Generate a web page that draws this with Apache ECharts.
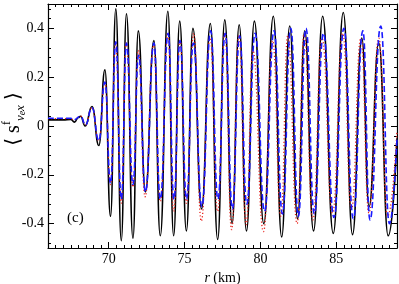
<!DOCTYPE html>
<html>
<head>
<meta charset="utf-8">
<script src="https://cdn.jsdelivr.net/npm/echarts@6/dist/echarts.min.js"></script>
<style>html,body{margin:0;padding:0;background:#fff}#c{width:399px;height:284px}</style>
</head>
<body>
<div id="c"></div>
<script>
// r (km) and values
const blackR = [66.0,67.0,67.5,67.75,68.0,68.15,68.45,68.9,69.35,69.75,70.12,70.47,70.83,71.17,71.6,71.95,72.42,72.98,73.4,73.9,74.28,74.68,75.12,75.55,76.12,76.7,77.18,77.65,78.13,78.6,79.08,79.6,80.22,80.85,81.4,81.93,82.45,82.92,83.5,84.1,84.8,85.46,86.07,86.68,87.16,87.8,88.42,89.0];
const blackV = [0.025,0.025,0.027,0.016,0.035,0.04,0.0,0.08,-0.08,0.23,-0.37,0.48,-0.47,0.46,-0.46,0.39,-0.27,0.35,-0.45,0.47,-0.45,0.43,-0.43,0.40,-0.34,0.42,-0.465,0.435,-0.40,0.415,-0.43,0.43,-0.40,0.45,-0.455,0.41,-0.38,0.39,-0.43,0.45,-0.44,0.465,-0.445,0.36,-0.33,0.34,-0.45,-0.05];

const blueR = [66.0,67.5,67.7,68.15,68.47,68.9,69.35,69.75,70.12,70.47,70.83,71.17,71.6,71.97,72.42,72.98,73.4,73.92,74.3,74.7,75.13,75.58,76.14,76.72,77.2,77.68,78.15,78.63,79.1,79.65,80.27,80.9,81.45,82.0,82.5,83.0,83.55,84.15,84.85,85.5,86.12,86.75,87.22,87.93,88.5,89.0];
const blueV = [0.032,0.032,0.025,0.04,0.005,0.075,-0.06,0.18,-0.235,0.345,-0.30,0.34,-0.24,0.29,-0.27,0.34,-0.30,0.38,-0.30,0.35,-0.30,0.34,-0.33,0.39,-0.30,0.38,-0.34,0.37,-0.32,0.38,-0.35,0.39,-0.36,0.40,-0.37,0.40,-0.36,0.38,-0.375,0.40,-0.38,0.39,-0.385,0.41,-0.40,-0.05];

const redR = [66.0,67.5,67.7,68.15,68.47,68.9,69.35,69.75,70.12,70.45,70.83,71.15,71.6,71.95,72.4,72.95,73.4,73.9,74.28,74.7,75.12,75.6,76.1,76.68,77.18,77.65,78.1,78.58,79.06,79.5,80.2,80.8,81.35,81.8,82.42,82.88,83.45,84.05,84.75,85.42,86.0,86.62,87.15,87.8,88.38,89.0];
const redV = [0.03,0.03,0.025,0.04,0.005,0.075,-0.06,0.18,-0.24,0.34,-0.316,0.34,-0.25,0.31,-0.29,0.33,-0.31,0.38,-0.35,0.35,-0.317,0.38,-0.39,0.36,-0.35,0.38,-0.425,0.37,-0.405,0.31,-0.433,0.35,-0.37,0.37,-0.40,0.38,-0.385,0.36,-0.357,0.38,-0.34,0.36,-0.357,0.36,-0.37,-0.02];

const xMajor = [70, 75, 80, 85];
const yMajor = [-0.4, -0.2, 0, 0.2, 0.4];
const xMin = 66, xMax = 89, yMin = -0.5, yMax = 0.5;

const xMinor = [];
for (let i = 0; i <= 46; i++) xMinor.push(66 + i * 0.5);
const yMinor = [];
for (let i = -12; i <= 12; i++) yMinor.push(Math.round(i * 4) / 100);

function pairs(r, v) { return r.map((x, i) => [x, v[i]]); }

const FONT = 'Liberation Serif, DejaVu Serif, serif';

function xAx(pos, major, showLabel) {
  return {
    type: 'value', position: pos, min: xMin, max: xMax,
    axisLine: { show: major, onZero: false, lineStyle: { color: '#000', width: 1.2 } },
    splitLine: { show: false },
    axisTick: { show: true, inside: true, length: major ? 6 : 3, customValues: major ? xMajor : xMinor, lineStyle: { color: '#000', width: 1 } },
    axisLabel: showLabel ? { show: true, customValues: xMajor, fontFamily: FONT, fontSize: 14, color: '#000', margin: 4 } : { show: false },
    name: showLabel ? '{i|r} (km)' : '',
    nameLocation: 'middle', nameGap: 22,
    nameTextStyle: { fontFamily: FONT, fontSize: 14, color: '#000', rich: { i: { fontFamily: FONT, fontStyle: 'italic', fontSize: 14, color: '#000' } } }
  };
}
function yAx(pos, major, showLabel) {
  return {
    type: 'value', position: pos, min: yMin, max: yMax,
    axisLine: { show: major, onZero: false, lineStyle: { color: '#000', width: 1.2 } },
    splitLine: { show: false },
    axisTick: { show: true, inside: true, length: major ? 6 : 3, customValues: major ? yMajor : yMinor, lineStyle: { color: '#000', width: 1 } },
    axisLabel: showLabel ? { show: true, customValues: yMajor, fontFamily: FONT, fontSize: 14, color: '#000', margin: 4 } : { show: false }
  };
}

const chart = echarts.init(document.getElementById('c'), null, { renderer: 'canvas' });
chart.setOption({
  animation: false,
  grid: { left: 48, right: 2, top: 4, bottom: 36, containLabel: false, outerBoundsMode: 'none' },
  xAxis: [xAx('bottom', true, true), xAx('bottom', false, false), xAx('top', true, false), xAx('top', false, false)],
  yAxis: [yAx('left', true, true), yAx('left', false, false), yAx('right', true, false), yAx('right', false, false)],
  graphic: [
    { type: 'text', left: 67, top: 211, style: { text: '(c)', font: '15px ' + FONT, fill: '#000' } },
    { type: 'text', x: 14, y: 119, rotation: Math.PI / 2,
      style: { text: '{a|⟨ s}{sup|f}{sub|ν}{ss|e}{sub|x}{a| ⟩}', align: 'center', verticalAlign: 'middle',
        rich: {
          a: { fontFamily: FONT, fontSize: 20, fill: '#000', lineHeight: 26, verticalAlign: 'middle' },
          sup: { fontFamily: FONT, fontSize: 12, fill: '#000', lineHeight: 26, verticalAlign: 'top' },
          sub: { fontFamily: FONT, fontSize: 13, fontStyle: 'italic', fill: '#000', lineHeight: 26, verticalAlign: 'bottom' },
          ss: { fontFamily: FONT, fontSize: 10, fontStyle: 'italic', fill: '#000', lineHeight: 26, verticalAlign: 'bottom' }
        } } }
  ],
  series: [
    { type: 'line', data: pairs(blackR, blackV), smooth: 0.5, smoothMonotone: 'x', showSymbol: false, lineStyle: { color: '#000', width: 1.6 }, z: 2 },
    { type: 'line', data: pairs(redR, redV), smooth: 0.5, smoothMonotone: 'x', showSymbol: false, lineStyle: { color: '#e8201a', width: 1.3, type: [1.2, 2.2] }, z: 3 },
    { type: 'line', data: pairs(blueR, blueV), smooth: 0.5, smoothMonotone: 'x', showSymbol: false, lineStyle: { color: '#1a1aff', width: 1.6, type: [6, 3] }, z: 4 }
  ]
});
</script>
</body>
</html>
